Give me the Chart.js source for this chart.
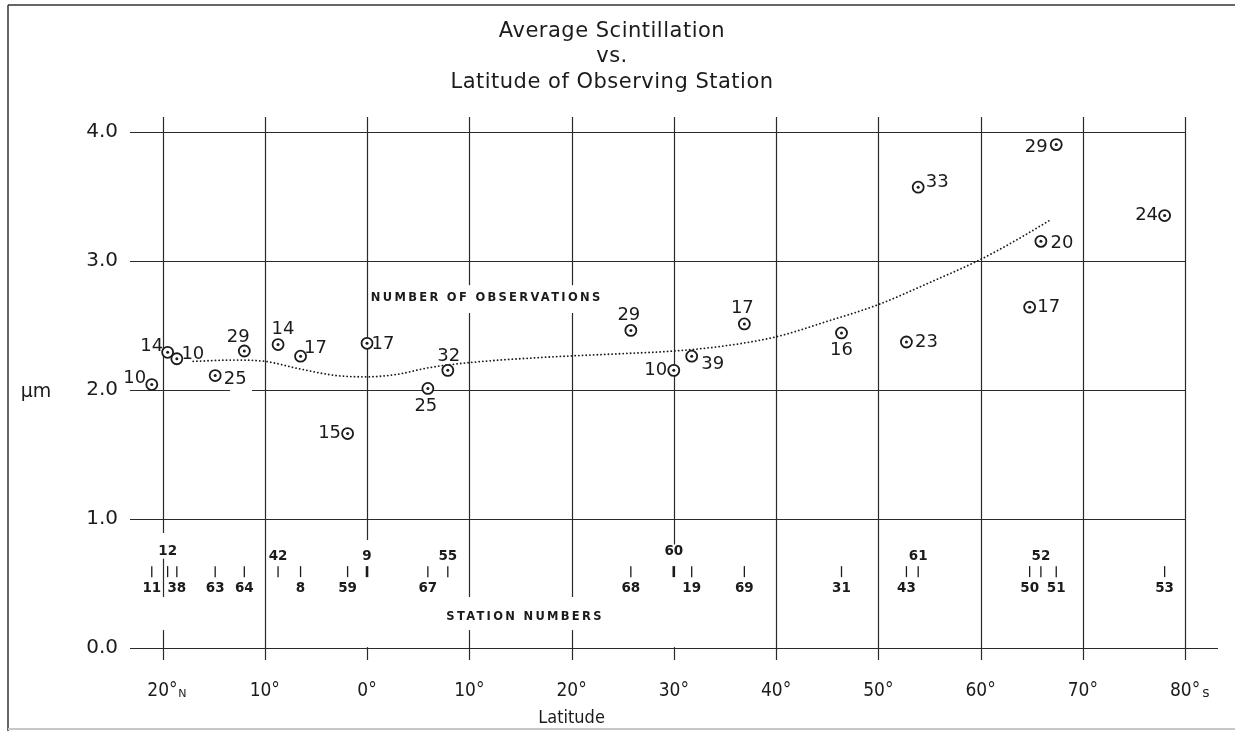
<!DOCTYPE html>
<html><head><meta charset="utf-8">
<script src="https://cdn.jsdelivr.net/npm/chart.js@4.4.1/dist/chart.umd.min.js"></script>
<style>html,body{margin:0;padding:0;background:#fff;}#wrap{width:1235px;height:731px;position:relative;}</style>
</head><body><div id="wrap"><canvas id="c"></canvas></div>
<script>
// ---------- DATA ----------
const stationNumbers = ['11','12','38','63','64','42','8','59','9','67','55','68','60','19','69','31','43','61','50','52','51','53'];
const latitudes      = [-21.05,-19.5,-18.6,-14.85,-12.0,-8.7,-6.5,-1.9,0,5.95,7.9,25.8,30,31.75,36.9,46.4,52.75,53.9,64.8,65.9,67.4,78.0];
const scintillation  = [2.04,2.29,2.24,2.11,2.30,2.35,2.26,1.66,2.36,2.01,2.15,2.46,2.15,2.26,2.51,2.44,2.37,3.57,2.64,3.15,3.90,3.35];
const observations   = ['10','14','10','25','29','14','17','15','17','25','32','29','10','39','17','16','23','33','17','20','29','24'];
const trendLat = [-17,-13,-10,-6.5,-3,0,3,6,10,17,25,30,35,40,45,50,55,60,63.5,66.7];
const trendVal = [2.22,2.23,2.22,2.16,2.11,2.10,2.12,2.17,2.21,2.25,2.28,2.30,2.34,2.41,2.53,2.66,2.83,3.01,3.16,3.31];
const xTicks = [-20,-10,0,10,20,30,40,50,60,70,80];
const xTickLabels = ['20°','10°','0°','10°','20°','30°','40°','50°','60°','70°','80°'];
const yTicks = [0,1,2,3,4];
const yTickLabels = ['0.0','1.0','2.0','3.0','4.0'];
const titleLines = ['Average Scintillation','vs.','Latitude of Observing Station'];

// ---------- STYLE ----------
const INK = '#1b1b1b', GRID = '#2a2a2a';
const FONT = "'DejaVu Sans','Noto Sans',sans-serif";
const COND = "'DejaVu Sans Condensed','Liberation Sans Narrow','DejaVu Sans',sans-serif";
const X_MIN = -23.18, X_MAX = 83.22, Y_MIN = -0.095, Y_MAX = 4.114;
const STATION_ROW = 0.59;               // y-value of the station tick row
// label offsets in px relative to each circle
const obsLabelOffset = [[-17,-6],[-16,-6],[16,-4],[20,4],[-6,-14],[5,-15],[15,-8],[-18,0],[16,1],[-2,18],[1,-14],
                        [-2,-15],[-18,0],[21,8],[-2,-16],[0,17],[20,0],[19,-5],[19,0],[21,2],[-20,3],[-18,0]];
const stationLabelSide = ['b','A','b','b','b','a','b','b','a','b','a','b','A','b','b','b','b','a','b','a','b','b'];
const V_GAPS = { '-20': [[0.69,0.89],[0.137,0.393]], '0': [[0.005,0.835]], '30': [[0.005,0.80]],
                 '10': [[0.137,0.393],[2.595,2.81]], '20': [[0.137,0.393],[2.595,2.81]] };
const H_GAPS = { '2': [[-13.4,-11.25]] };

const paper = {
  id: 'paper',
  beforeDatasetsDraw(chart) {
    const {ctx, chartArea: a, scales: {x, y}} = chart;
    ctx.save();
    const seg = (x1,y1,x2,y2) => { ctx.beginPath(); ctx.moveTo(x1,y1); ctx.lineTo(x2,y2); ctx.stroke(); };
    // page frame
    ctx.strokeStyle = '#333'; ctx.lineWidth = 1.5;
    seg(8,5,1235,5); seg(8,5,8,731);
    ctx.strokeStyle = '#c8c8c8'; ctx.lineWidth = 2; seg(8,729,1235,729);
    // grid
    ctx.strokeStyle = GRID; ctx.lineWidth = 1.2;
    xTicks.forEach(v => {
      const px = Math.round(x.getPixelForValue(v)) + 0.5;
      const gaps = (V_GAPS[String(v)] || []).map(g => [y.getPixelForValue(g[1]), y.getPixelForValue(g[0])]).sort((p,q)=>p[0]-q[0]);
      let cur = a.top;
      gaps.forEach(([g1,g2]) => { seg(px,cur,px,g1); cur = g2; });
      seg(px,cur,px,a.bottom);
    });
    yTicks.forEach(v => {
      const py = Math.round(y.getPixelForValue(v)) + 0.5;
      const right = v === 0 ? a.right : x.getPixelForValue(xTicks[xTicks.length-1]);
      const gaps = (H_GAPS[String(v)] || []).map(g => [x.getPixelForValue(g[0]), x.getPixelForValue(g[1])]);
      let cur = a.left;
      gaps.forEach(([g1,g2]) => { seg(cur,py,g1,py); cur = g2; });
      seg(cur,py,right,py);
    });
    ctx.restore();
  },
  afterDatasetsDraw(chart) {
    const {ctx, scales: {x, y}} = chart;
    ctx.save();
    ctx.fillStyle = INK;
    // title
    ctx.textAlign = 'center'; ctx.textBaseline = 'alphabetic';
    ctx.font = `21px ${FONT}`; ctx.letterSpacing = '0.5px';
    const tb = [37, 62, 87.5];
    titleLines.forEach((t,i) => ctx.fillText(t, 612, tb[i]));
    ctx.letterSpacing = '0px';
    // y unit
    ctx.textBaseline = 'middle';
    ctx.font = `19px ${FONT}`;
    ctx.fillText('μm', 36, y.getPixelForValue(2) + 2);
    // x title
    ctx.font = `18px ${COND}`;
    ctx.fillText('Latitude', x.getPixelForValue(20), 718);
    // N / S suffixes
    ctx.font = `19px ${COND}`;
    const lblY = 690;
    const wL = ctx.measureText(xTickLabels[0]).width, wR = ctx.measureText(xTickLabels[xTickLabels.length-1]).width;
    ctx.font = `11px ${FONT}`; ctx.textAlign = 'left';
    ctx.fillText('N', x.getPixelForValue(xTicks[0]) + wL/2 + 0.5, lblY + 4);
    ctx.font = `14px ${FONT}`;
    ctx.fillText('s', x.getPixelForValue(xTicks[xTicks.length-1]) + wR/2 + 2, lblY + 3);
    // section captions
    ctx.textAlign = 'center';
    ctx.font = `bold 11.5px ${FONT}`; ctx.letterSpacing = '2.3px';
    ctx.fillText('NUMBER OF OBSERVATIONS', x.getPixelForValue(11.7), y.getPixelForValue(2.71));
    ctx.fillText('STATION NUMBERS', x.getPixelForValue(15.45), y.getPixelForValue(0.24));
    ctx.letterSpacing = '0px';
    // observation counts
    ctx.font = `18px ${FONT}`;
    latitudes.forEach((lat,i) => {
      const px = x.getPixelForValue(lat), py = y.getPixelForValue(scintillation[i]);
      ctx.fillText(observations[i], px + obsLabelOffset[i][0], py + obsLabelOffset[i][1]);
    });
    // station numbers
    ctx.font = `bold 13.5px ${FONT}`;
    const rowPx = y.getPixelForValue(STATION_ROW);
    latitudes.forEach((lat,i) => {
      const s = stationLabelSide[i];
      const dy = s === 'b' ? 17 : (s === 'A' ? -20 : -15);
      ctx.fillText(stationNumbers[i], x.getPixelForValue(lat), rowPx + dy);
    });
    ctx.restore();
  }
};

new Chart(document.getElementById('c'), {
  type: 'scatter',
  data: {
    datasets: [
      { type: 'line', label: 'trend', order: 4,
        data: trendLat.map((v,i) => ({x: v, y: trendVal[i]})),
        borderColor: INK, borderWidth: 1.8, borderDash: [0.1, 3.6], borderCapStyle: 'round',
        pointRadius: 0, fill: false, cubicInterpolationMode: 'monotone', clip: false },
      { label: 'stations', order: 3,
        data: latitudes.map(v => ({x: v, y: STATION_ROW})),
        pointStyle: 'line', rotation: 90, pointRadius: 5.5,
        borderColor: INK, borderWidth: c => (latitudes[c.dataIndex] % 10 === 0 ? 2.6 : 1.3), clip: false },
      { label: 'scintillation', order: 2,
        data: latitudes.map((v,i) => ({x: v, y: scintillation[i]})),
        pointStyle: 'circle', pointRadius: 5.5, borderWidth: 1.8, borderColor: INK, backgroundColor: '#fff', clip: false },
      { label: 'centre', order: 1,
        data: latitudes.map((v,i) => ({x: v, y: scintillation[i]})),
        pointStyle: 'circle', pointRadius: 1.5, borderWidth: 0, backgroundColor: INK, clip: false }
    ]
  },
  options: {
    responsive: true, maintainAspectRatio: false, animation: false, devicePixelRatio: 1, events: [],
    layout: { padding: { top: 117, right: 17, left: 0, bottom: 0 } },
    plugins: { legend: { display: false }, tooltip: { enabled: false }, title: { display: false } },
    scales: {
      x: { type: 'linear', min: X_MIN, max: X_MAX,
           afterBuildTicks: s => { s.ticks = xTicks.map(v => ({value: v})); },
           afterFit: s => { s.height = 71; },
           grid: { display: false, drawTicks: false }, border: { display: false },
           ticks: { autoSkip: false, maxRotation: 0, padding: 20, color: INK,
                    font: { family: COND, size: 19 }, callback: (v,i) => xTickLabels[i] } },
      y: { type: 'linear', min: Y_MIN, max: Y_MAX,
           afterBuildTicks: s => { s.ticks = yTicks.map(v => ({value: v})); },
           afterFit: s => { s.width = 130; },
           grid: { display: false, drawTicks: false }, border: { display: false },
           ticks: { padding: 12, color: INK, font: { family: FONT, size: 20 },
                    callback: (v,i) => yTickLabels[i] } }
    }
  },
  plugins: [paper]
});
</script></body></html>
